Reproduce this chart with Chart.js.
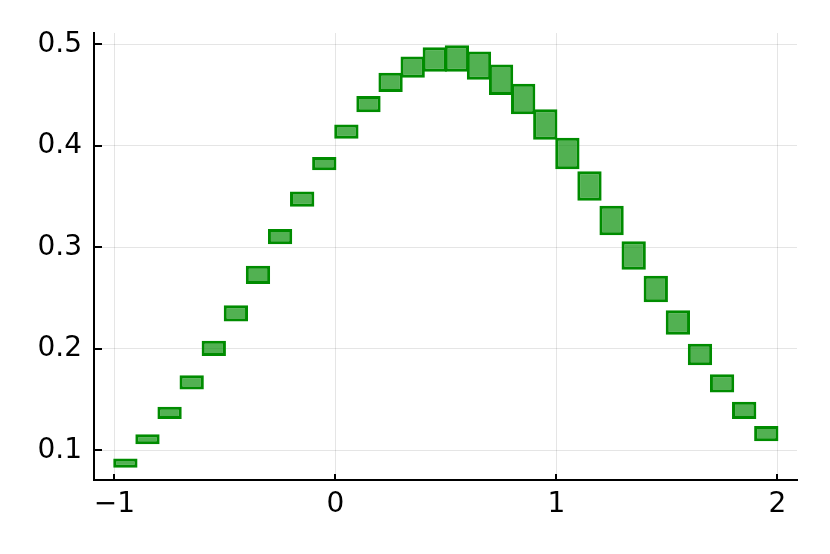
<!DOCTYPE html>
<html>
<head>
<meta charset="utf-8">
<script src="https://cdn.jsdelivr.net/npm/chart.js@4.4.1/dist/chart.umd.min.js"></script>
<style>
  html, body { margin: 0; padding: 0; background: #fff; }
  #wrap { width: 830px; height: 554px; }
</style>
</head>
<body>
<div id="wrap"><canvas id="chart"></canvas></div>
<script>
// box centres on x, and bottom / top of each box
var centers = [-0.95, -0.85, -0.75, -0.65, -0.55, -0.45, -0.35, -0.25, -0.15, -0.05,
               0.05, 0.15, 0.25, 0.35, 0.45, 0.55, 0.65, 0.75, 0.85, 0.95,
               1.05, 1.15, 1.25, 1.35, 1.45, 1.55, 1.65, 1.75, 1.85, 1.95];
var lows  = [0.083, 0.106, 0.131, 0.160, 0.193, 0.227, 0.264, 0.303, 0.340, 0.376,
             0.407, 0.433, 0.453, 0.467, 0.473, 0.473, 0.465, 0.450, 0.431, 0.406,
             0.377, 0.346, 0.312, 0.278, 0.246, 0.214, 0.184, 0.157, 0.131, 0.109];
var highs = [0.092, 0.116, 0.143, 0.174, 0.208, 0.243, 0.282, 0.318, 0.355, 0.389,
             0.421, 0.449, 0.472, 0.488, 0.497, 0.499, 0.493, 0.480, 0.461, 0.436,
             0.408, 0.375, 0.341, 0.306, 0.272, 0.238, 0.205, 0.175, 0.148, 0.124];
var xTicks = [-1, 0, 1, 2];
var yTicks = [0.1, 0.2, 0.3, 0.4, 0.5];

var boxData = centers.map(function (c, i) {
    return { x: c, y: [lows[i], highs[i]] };
});

var tickFont = { family: 'DejaVu Sans', size: 28 };

// inward tick marks, like the original plot
var innerTicks = {
    id: 'innerTicks',
    afterDraw: function (chart) {
        var ctx = chart.ctx;
        var xs = chart.scales.x, ys = chart.scales.y;
        var area = chart.chartArea;
        ctx.save();
        ctx.strokeStyle = '#000';
        ctx.lineWidth = 2;
        xs.ticks.forEach(function (t) {
            var px = Math.round(xs.getPixelForValue(t.value));
            ctx.beginPath();
            ctx.moveTo(px, area.bottom);
            ctx.lineTo(px, area.bottom - 6);
            ctx.stroke();
        });
        ys.ticks.forEach(function (t) {
            var py = Math.round(ys.getPixelForValue(t.value));
            ctx.beginPath();
            ctx.moveTo(area.left, py);
            ctx.lineTo(area.left + 8, py);
            ctx.stroke();
        });
        ctx.restore();
    }
};

var ctx = document.getElementById('chart');
new Chart(ctx, {
    type: 'bar',
    data: {
        datasets: [{
            label: 'boxes',
            data: boxData,
            backgroundColor: 'rgba(0, 140, 0, 0.68)',
            borderColor: 'rgb(0, 140, 0)',
            borderWidth: 3,
            borderSkipped: false,
            barPercentage: 1.1,
            categoryPercentage: 1
        }]
    },
    options: {
        responsive: true,
        maintainAspectRatio: false,
        animation: false,
        layout: { padding: { left: 0, top: 33, right: 33, bottom: 0 } },
        plugins: { legend: { display: false }, tooltip: { enabled: false } },
        scales: {
            x: {
                type: 'linear',
                offset: false,
                min: -1.092,
                max: 2.089,
                afterBuildTicks: function (s) { s.ticks = xTicks.map(function (v) { return { value: v }; }); },
                afterFit: function (s) { s.height = 74; },
                border: { display: true, color: '#000', width: 2 },
                grid: { color: 'rgba(0,0,0,0.1)', lineWidth: 1, drawTicks: false, offset: false },
                ticks: {
                    color: '#000',
                    font: tickFont,
                    padding: 8,
                    maxRotation: 0,
                    callback: function (v) { return String(v).replace('-', '\u2212'); }
                }
            },
            y: {
                min: 0.0709,
                max: 0.5111,
                afterBuildTicks: function (s) { s.ticks = yTicks.map(function (v) { return { value: v }; }); },
                afterFit: function (s) { s.width = 94; },
                border: { display: true, color: '#000', width: 2 },
                grid: { color: 'rgba(0,0,0,0.1)', lineWidth: 1, drawTicks: false },
                ticks: {
                    color: '#000',
                    font: tickFont,
                    padding: 12,
                    callback: function (v) { return v.toFixed(1); }
                }
            }
        }
    },
    plugins: [innerTicks]
});
</script>
</body>
</html>
